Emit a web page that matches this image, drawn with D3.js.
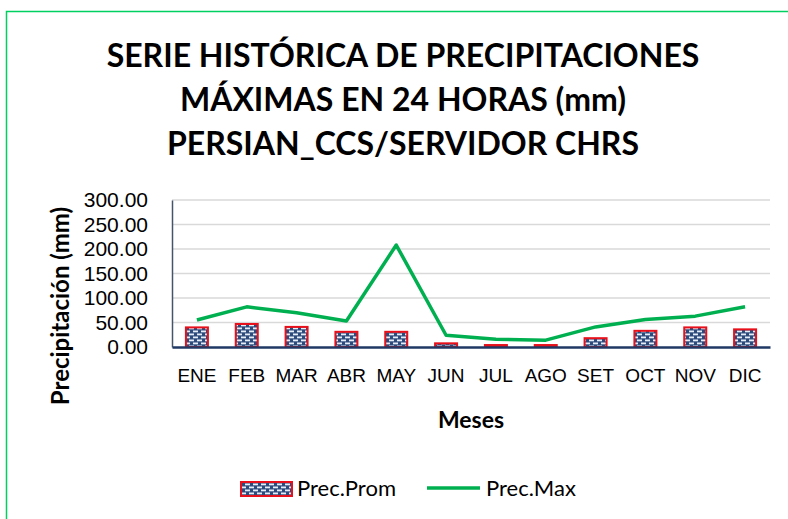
<!DOCTYPE html>
<html>
<head>
<meta charset="utf-8">
<script src="https://cdn.jsdelivr.net/npm/d3@7"></script>
<style>
  body { margin: 0; background: #fff; }
  svg { display: block; font-family: Lato, "Open Sans", sans-serif; }
  .tick text { fill: #000; }
</style>
</head>
<body>
<script>
(function(){

//chart values
var months = ["ENE", "FEB", "MAR", "ABR", "MAY", "JUN", "JUL", "AGO", "SET", "OCT", "NOV", "DIC"];
var precProm = [40, 47, 41, 31, 31, 7.5, 4, 4, 18, 33, 40, 36];
var precMax = [55, 82, 70, 53, 208, 24, 16, 14, 41, 56, 63, 82];
var yTicks = [0, 50, 100, 150, 200, 250, 300];
var titleLines = ["SERIE HISTÓRICA DE PRECIPITACIONES", "MÁXIMAS EN 24 HORAS (mm)", "PERSIAN_CCS/SERVIDOR CHRS"];

var width = 788, height = 519;
var margin = {left: 172, right: 18, top: 200, bottom: 172};

var svg = d3.select("body").append("svg")
    .attr("width", width)
    .attr("height", height);

//bar fill pattern: navy with white dashes
var defs = svg.append("defs");
var pat = defs.append("pattern")
    .attr("id", "dots")
    .attr("patternUnits", "userSpaceOnUse")
    .attr("width", 8)
    .attr("height", 6);
pat.append("rect").attr("width", 8).attr("height", 6).attr("fill", "#2c4a7c");
pat.append("rect").attr("x", 1).attr("y", 0.5).attr("width", 5).attr("height", 1.8).attr("fill", "#e8eef8");
pat.append("rect").attr("x", -3).attr("y", 3.5).attr("width", 5).attr("height", 1.8).attr("fill", "#e8eef8");
pat.append("rect").attr("x", 5).attr("y", 3.5).attr("width", 5).attr("height", 1.8).attr("fill", "#e8eef8");

//outer frame
svg.append("rect")
    .attr("x", 6.5).attr("y", 11.5)
    .attr("width", 800).attr("height", 520)
    .attr("fill", "none")
    .attr("stroke", "#00d060")
    .attr("stroke-width", 1.5);

//title
svg.append("g").selectAll("text")
    .data(titleLines)
    .enter().append("text")
    .attr("x", 403)
    .attr("y", function(d, i){ return 67 + i * 44; })
    .attr("text-anchor", "middle")
    .style("font-size", "32px")
    .style("font-weight", "bold")
    .text(function(d){ return d; });

var x = d3.scaleBand()
    .domain(months)
    .range([margin.left, width - margin.right]);

var y = d3.scaleLinear()
    .domain([0, 300])
    .range([height - margin.bottom, margin.top]);

//gridlines
svg.append("g").selectAll("line")
    .data(yTicks.slice(1))
    .enter().append("line")
    .attr("x1", margin.left).attr("x2", width - margin.right)
    .attr("y1", function(d){ return y(d); })
    .attr("y2", function(d){ return y(d); })
    .attr("stroke", "#d9d9d9")
    .attr("stroke-width", 1.5);

//y axis
var yAxis = svg.append("g")
    .attr("transform", "translate(" + margin.left + ",0)")
    .call(d3.axisLeft(y).tickValues(yTicks).tickSize(0).tickPadding(24)
        .tickFormat(function(d){ return d.toFixed(2); }));
yAxis.select(".domain").attr("stroke", "#44546a").attr("stroke-width", 1.5);
yAxis.selectAll(".tick text").style("font-size", "21px");

//bars
var barW = 22;
svg.append("g").selectAll("rect")
    .data(precProm)
    .enter().append("rect")
    .attr("x", function(d, i){ return x(months[i]) + x.bandwidth() / 2 - barW / 2; })
    .attr("y", function(d){ return y(d); })
    .attr("width", barW)
    .attr("height", function(d){ return y(0) - y(d); })
    .attr("fill", "url(#dots)")
    .attr("stroke", "#e8101a")
    .attr("stroke-width", 2);

//x axis
var xAxis = svg.append("g")
    .attr("transform", "translate(0," + y(0) + ")")
    .call(d3.axisBottom(x).tickSize(0).tickPadding(22));
xAxis.select(".domain").attr("stroke", "#203864").attr("stroke-width", 2.5);
xAxis.selectAll(".tick text").style("font-size", "19px");

//max line
var line = d3.line()
    .x(function(d, i){ return x(months[i]) + x.bandwidth() / 2; })
    .y(function(d){ return y(d); });

svg.append("path")
    .datum(precMax)
    .attr("d", line)
    .attr("fill", "none")
    .attr("stroke", "#00b050")
    .attr("stroke-width", 3.5)
    .attr("stroke-linejoin", "round");

//axis titles
svg.append("text")
    .attr("x", 471).attr("y", 428)
    .attr("text-anchor", "middle")
    .style("font-size", "23px").style("font-weight", "bold")
    .text("Meses");

svg.append("text")
    .attr("transform", "translate(69,306) rotate(-90)")
    .attr("text-anchor", "middle")
    .style("font-size", "24px").style("font-weight", "bold")
    .text("Precipitación (mm)");

//legend
var leg = svg.append("g");
leg.append("rect")
    .attr("x", 241).attr("y", 482).attr("width", 51).attr("height", 14)
    .attr("fill", "url(#dots)").attr("stroke", "#e8101a").attr("stroke-width", 2);
leg.append("text").attr("x", 297).attr("y", 496).style("font-size", "22px").text("Prec.Prom");
leg.append("line")
    .attr("x1", 427).attr("x2", 480).attr("y1", 488).attr("y2", 488)
    .attr("stroke", "#00b050").attr("stroke-width", 3.5);
leg.append("text").attr("x", 486).attr("y", 496).style("font-size", "22px").text("Prec.Max");

})();
</script>
</body>
</html>
